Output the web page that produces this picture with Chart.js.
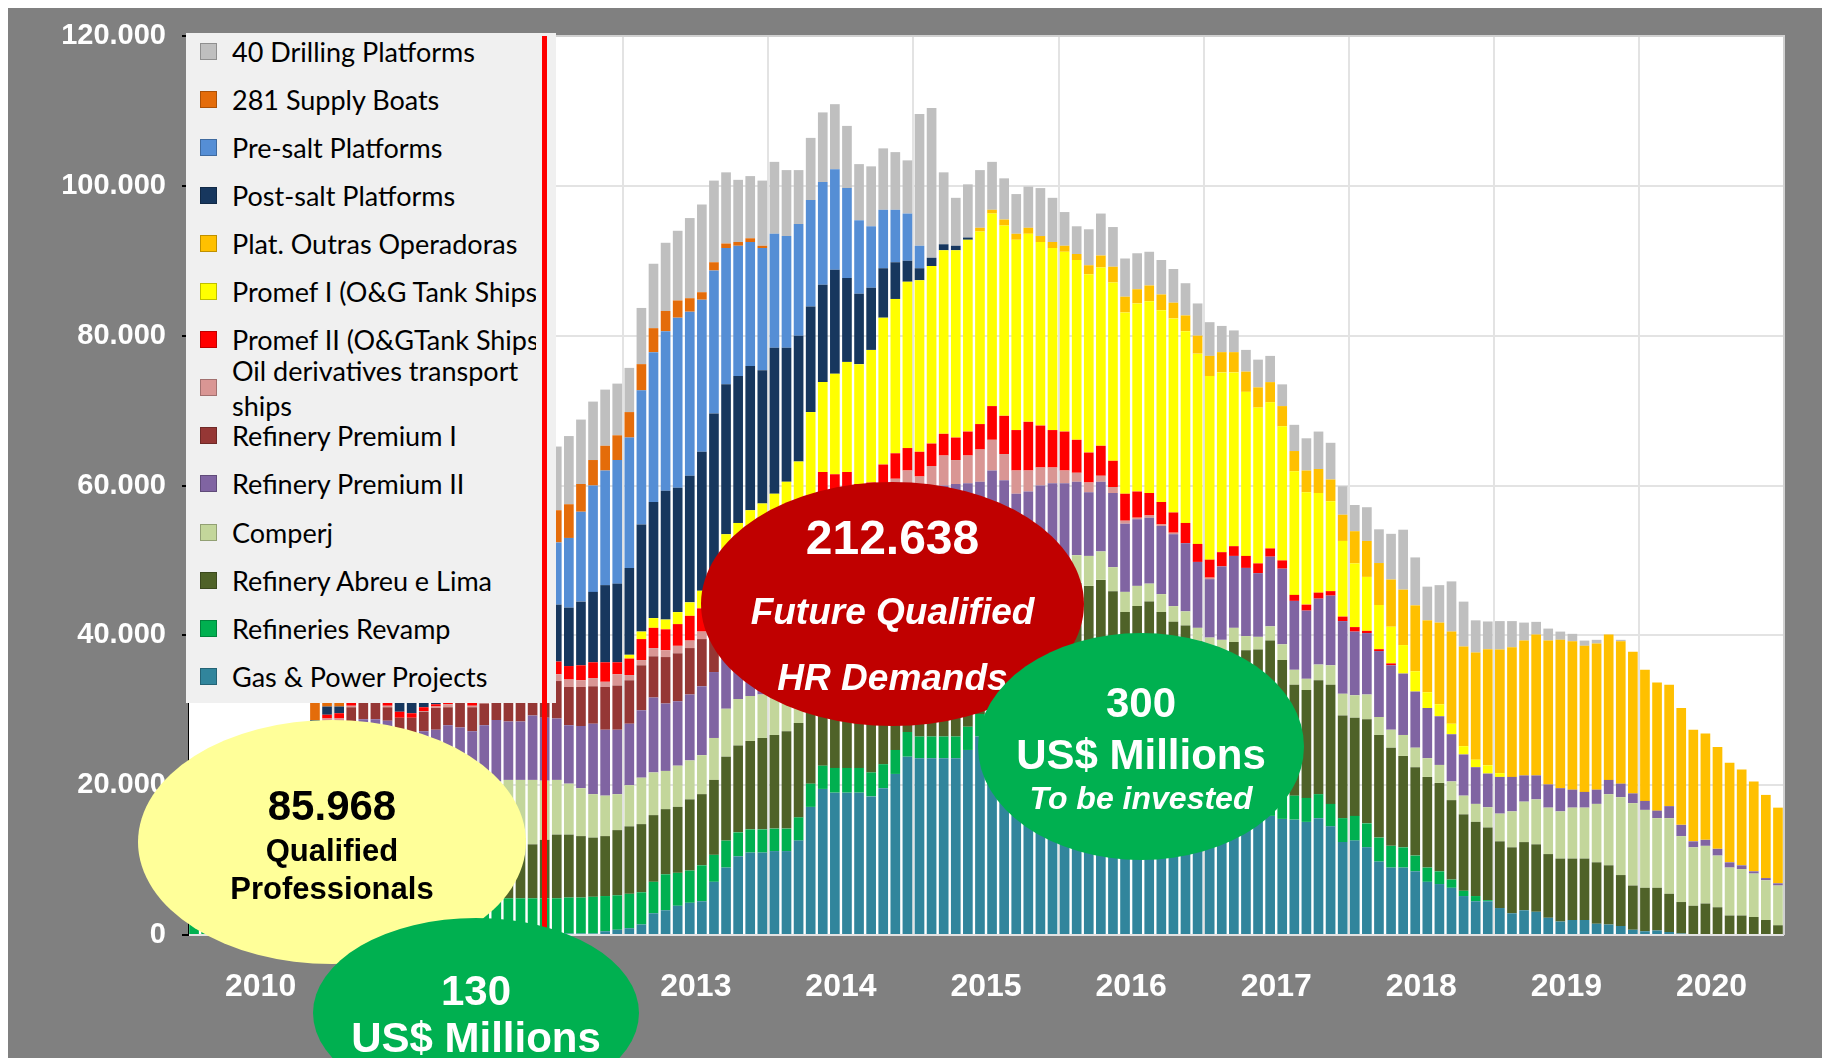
<!DOCTYPE html>
<html>
<head>
<meta charset="utf-8">
<script src="https://cdn.jsdelivr.net/npm/chart.js@4.4.1/dist/chart.umd.min.js"></script>
<style>
  body { margin: 0; background: #fff; }
  #wrap { position: relative; width: 1822px; height: 1058px; overflow: hidden; }
  #bg { position: absolute; left: 8px; top: 8px; right: 0; bottom: 0; background: #808080; }
  #chart { position: absolute; left: 0; top: 0; }
  #legend { position: absolute; left: 186px; top: 33px; width: 370px; height: 670px; background: #f0f0f0; overflow: hidden; }
  .row { position: absolute; left: 0; height: 48px; display: flex; align-items: center; }
  .box { position: absolute; left: 14px; width: 15px; height: 15px; border: 1px solid rgba(0,0,0,0.25); }
  .txt { position: absolute; left: 46px; width: 304px; font: 27px Lato, "Open Sans", sans-serif; color: #000; line-height: 35px; white-space: nowrap; overflow: hidden; }
  .txt.wrap { white-space: normal; }
  #marker { position: absolute; width: 5px; background: #ff0000; }
  .ell { position: absolute; border-radius: 50%; font-family: "Liberation Sans", Arial, sans-serif; font-weight: bold; }
  .ell div { position: absolute; left: 0; width: 100%; text-align: center; line-height: 1; white-space: nowrap; }
</style>
</head>
<body>
<div id="wrap">
  <div id="bg"></div>
  <canvas id="chart" width="1822" height="1058"></canvas>
  <div id="legend"></div>
  <div id="marker"></div>

  <div class="ell" style="left:138px;top:720px;width:388px;height:244px;background:#ffff99;color:#000">
    <div style="top:65px;font-size:42px">85.968</div>
    <div style="top:115px;font-size:31px">Qualified</div>
    <div style="top:153px;font-size:31px">Professionals</div>
  </div>
  <div class="ell" style="left:313px;top:918px;width:326px;height:190px;background:#00b050;color:#fff">
    <div style="top:52px;font-size:42px">130</div>
    <div style="top:99px;font-size:42px">US$ Millions</div>
  </div>
  <div class="ell" style="left:701px;top:482px;width:383px;height:244px;background:#c00000;color:#fff">
    <div style="top:32px;font-size:48px">212.638</div>
    <div style="top:111px;font-size:37px;font-style:italic">Future Qualified</div>
    <div style="top:177px;font-size:37px;font-style:italic">HR Demands</div>
  </div>
  <div class="ell" style="left:978px;top:633px;width:326px;height:227px;background:#00b050;color:#fff">
    <div style="top:49px;font-size:42px">300</div>
    <div style="top:101px;font-size:42px">US$ Millions</div>
    <div style="top:149px;font-size:32px;font-style:italic">To be invested</div>
  </div>
</div>

<script>
// values in thousands of professionals, one per month Jan 2010 .. Dec 2020
const years = [2010, 2011, 2012, 2013, 2014, 2015, 2016, 2017, 2018, 2019, 2020];
const monthNames = ['Jan', 'Feb', 'Mar', 'Apr', 'May', 'Jun', 'Jul', 'Aug', 'Sep', 'Oct', 'Nov', 'Dec'];
const markerMonth = 'Jun 2012';

const gasPower = [
  0,0,0,0,0,0,0,0,0,0,0,0,
  0,0,0,0,0,0,0,0,0,0,0,0,
  0,0,0,0,0,0,0.1,0.2,0.2,0.2,0.5,0.7,
  0.9,1.4,2.9,3.3,3.9,4.3,4.5,7.1,9.0,10.5,11.0,11.0,
  11.2,11.2,12.6,17.1,19.5,19.0,19.0,19.0,18.5,19.6,21.5,23.8,
  23.6,23.6,23.6,23.6,24.7,26.5,26.9,26.4,26.1,25.3,25.1,24.4,
  24.2,23.4,23.1,22.3,22.1,21.6,20.8,20.6,19.9,19.6,18.9,18.6,
  17.9,17.6,16.9,16.7,16.1,15.9,15.5,15.4,15.1,15.6,14.5,12.4,
  12.6,11.7,9.8,9.0,9.0,8.5,7.1,6.8,6.3,5.2,4.5,4.5,
  3.6,2.9,3.3,3.1,2.3,1.8,2.0,2.0,1.5,1.4,1.2,0.7,
  0.5,0.6,0.4,0.2,0,0,0,0,0,0,0,0
];
const refineriesRevamp = [
  4.6,4.6,4.7,4.7,4.8,4.8,4.8,4.9,4.9,4.9,5.0,5.0,
  5.0,5.0,5.0,5.0,5.0,4.9,4.9,4.9,4.9,4.9,4.9,4.9,
  4.9,4.9,4.9,4.9,4.9,4.9,4.8,4.8,4.8,4.9,4.7,4.6,
  4.6,4.3,4.2,4.8,4.4,4.3,4.8,3.6,3.6,3.2,3.1,3.1,
  3.0,3.0,3.1,3.1,3.1,3.3,3.3,3.3,3.2,3.2,3.2,3.3,
  2.9,2.9,2.9,2.9,3.1,3.0,3.0,3.0,3.0,3.0,3.1,3.1,
  3.1,3.1,3.1,3.1,3.1,3.1,3.1,3.1,3.1,3.1,3.1,3.1,
  3.1,3.1,3.2,3.2,3.2,3.2,3.2,3.2,3.2,3.2,3.0,3.2,
  3.3,3.2,3.2,2.9,2.7,2.1,1.9,1.7,1.1,0.7,0.7,0.15,
  0,0,0,0,0,0,0,0,0,0,0,0,
  0,0,0,0,0,0,0,0,0,0,0,0
];
const abreuLima = [
  2.0,2.2,2.4,2.6,2.8,3.0,3.2,3.4,3.6,3.8,4.4,5.0,
  5.1,5.4,5.6,5.8,5.9,6.0,6.1,6.2,6.3,6.4,6.5,6.6,
  6.7,7.0,7.4,8.0,7.2,7.8,8.5,8.4,8.2,7.9,8.0,8.7,
  9.0,9.1,8.9,8.7,8.8,9.5,9.5,10.0,11.2,11.6,11.8,12.2,
  12.5,13.0,12.6,13.0,14.0,14.5,15.0,15.0,15.8,15.8,16.2,15.6,
  16.8,17.2,17.5,17.8,17.0,16.5,16.5,16.9,16.9,17.7,17.9,18.7,
  18.8,20.5,20.4,22.0,20.7,18.4,20.0,20.8,20.1,19.1,19.3,17.5,
  16.9,16.8,19.0,18.1,18.8,20.2,18.0,14.8,14.4,15.2,15.9,13.7,
  13.1,13.9,13.7,13.1,12.2,11.8,12.1,11.8,10.6,10.2,9.9,9.7,
  8.9,8.8,9.1,9.0,8.5,8.4,8.2,8.2,8.2,7.9,6.8,5.9,
  5.8,5.7,5.1,4.2,3.9,4.2,3.7,2.6,2.6,2.4,2.0,1.3
];
const comperj = [
  3.5,3.7,3.9,4.1,4.3,4.5,4.7,4.9,5.1,5.3,6.2,6.8,
  7.0,7.2,7.4,7.5,7.5,7.3,7.3,7.4,7.5,7.6,7.7,7.8,
  7.8,8.6,8.4,7.8,8.6,7.9,7.3,6.8,6.4,5.8,5.4,4.8,
  5.5,6.2,5.7,5.1,5.5,5.2,5.2,5.6,6.4,6.2,6.0,5.8,
  5.8,5.8,5.7,5.6,5.5,5.5,5.4,5.4,5.3,5.2,5.2,5.1,
  5.0,5.0,5.0,4.9,4.8,4.6,4.5,4.4,4.3,4.2,4.1,4.0,
  3.9,3.7,4.0,3.8,3.2,2.7,2.7,2.4,2.4,2.1,1.9,1.8,
  1.8,1.9,1.9,1.9,1.7,1.9,2.1,2.0,1.5,2.1,2.6,2.9,
  3.0,3.3,2.4,2.4,2.8,2.6,2.5,2.4,2.5,2.5,2.4,2.7,
  3.7,4.8,5.4,6.0,6.2,6.3,6.8,6.8,7.8,9.5,10.4,11.0,
  10.4,9.3,10.1,8.8,7.8,7.7,6.9,6.4,6.2,5.8,5.3,5.3
];
const premiumII = [
  5.0,5.3,5.6,5.9,6.2,6.5,6.8,7.0,7.3,7.5,8.0,9.0,
  8.9,10.2,10.8,10.5,10.2,8.6,8.5,8.7,8.7,9.1,8.6,7.9,
  8.6,8.2,7.8,7.8,8.6,8.4,8.2,7.8,8.3,9.4,8.8,8.6,
  8.2,9.0,10.0,9.0,8.6,8.8,9.2,8.8,8.6,8.8,9.4,10.3,
  10.8,11.2,11.6,11.4,11.6,11.8,12.0,12.0,12.0,12.9,11.8,10.9,
  9.9,10.2,11.0,11.0,10.7,9.9,11.1,10.0,8.6,9.0,9.8,10.1,
  10.3,9.8,8.5,9.3,9.9,9.1,8.9,8.8,9.1,9.6,9.1,8.8,
  7.8,9.8,9.6,9.1,8.5,9.3,10.1,9.2,9.1,8.8,9.3,9.7,
  8.5,8.2,8.8,8.6,8.2,7.5,6.7,6.5,6.3,5.5,4.9,4.5,
  4.9,4.6,3.5,3.2,3.1,3.1,2.4,2.1,1.9,1.9,1.8,1.3,
  1.2,1.0,1.6,1.5,0.8,0.8,0.9,0.7,0.5,0.3,0.3,0.3
];
const premiumI = [
  2.0,2.0,2.1,2.1,2.2,2.2,2.3,2.3,2.4,2.4,2.5,2.6,
  2.6,2.6,2.7,2.6,1.8,2.2,2.2,2.6,2.9,2.4,3.3,3.2,
  2.9,3.3,3.8,4.2,4.5,4.8,5.0,5.1,5.2,5.0,5.7,5.9,
  5.8,6.0,5.5,6.2,6.4,6.2,6.3,6.0,5.6,5.2,4.8,4.2,
  3.6,3.1,2.6,2.0,1.6,1.2,0.8,0.5,0.3,0.1,0,0,
  0,0,0,0,0,0,0,0,0,0,0,0,
  0,0,0,0,0,0,0,0,0,0,0,0,
  0,0,0,0,0,0,0,0,0,0,0,0,
  0,0,0,0,0,0,0,0,0,0,0,0,
  0,0,0,0,0,0,0,0,0,0,0,0,
  0,0,0,0,0,0,0,0,0,0,0,0
];
const oilShips = [
  0.3,0.3,0.3,0.3,0.3,0.4,0.4,0.4,0.4,0.5,0.3,0.5,
  0.3,0.2,0.3,0.3,0.2,0,0,0.1,0.2,0.4,0.3,0.2,
  0.4,0.6,0.7,0.8,0.8,0.9,0.9,1.0,0.9,1.1,0.7,1.5,
  0.7,0.7,1.1,0.9,1.0,1.0,1.0,1.0,1.1,1.3,1.5,1.8,
  2.0,2.2,2.4,2.6,2.8,2.6,2.7,2.0,2.2,2.8,3.0,3.3,
  3.0,3.7,4.0,3.2,3.7,4.3,4.1,3.5,3.1,2.8,2.4,2.1,
  1.7,1.2,1.3,0.8,0.8,0.4,0.2,0.3,0.2,0.2,0,0,
  0.2,0,0,0,0,0,0,0,0,0,0,0,
  0,0,0,0,0,0,0,0,0,0,0,0,
  0,0,0,0,0,0,0,0,0,0,0,0,
  0,0,0,0,0,0,0,0,0,0,0,0
];
const promefII = [
  0.5,0.5,0.5,0.5,0.6,0.6,0.6,0.6,0.7,0.7,0.7,0.5,
  0.7,1.0,1.0,1.1,1.0,0.8,0.6,0.5,0.3,0.8,0.8,1.0,
  1.1,1.2,1.3,1.4,1.5,1.6,1.7,1.8,2.0,2.1,2.6,1.6,
  2.2,2.8,2.7,2.8,2.9,3.3,3.1,3.4,3.4,3.4,3.6,3.6,
  3.7,3.8,3.8,3.7,3.7,3.6,3.6,3.0,3.1,3.2,3.4,3.0,
  3.3,3.0,2.9,3.0,3.2,3.4,4.5,5.1,5.4,6.5,5.6,5.0,
  5.2,4.4,4.0,4.0,3.5,3.6,3.5,3.0,3.0,2.7,2.7,2.4,
  2.4,1.9,1.3,1.6,1.3,1.1,1.1,0.8,0.8,0.8,0.6,0.6,
  0.6,0.3,0.25,0.25,0,0,0,0,0,0,0,0,
  0,0,0,0,0,0,0,0,0,0,0,0,
  0,0,0,0,0,0,0,0,0,0,0,0
];
const promefI = [
  0,0,0,0,0,0,0,0,0,0,0,0,
  0,0,0,0,0,0,0,0,0,0,0,0,
  0,0,0,0,0,0,0,0,0,0,0,0,
  0.5,1.0,1.3,1.3,1.6,1.8,2.35,2.8,4.6,4.8,5.5,5.6,
  6.3,7.2,8.8,11.3,12.0,13.4,14.7,16.0,17.7,19.6,20.6,22.2,
  22.9,23.7,24.5,25.0,25.6,25.7,25.7,25.4,25.4,25.1,24.5,24.3,
  24.0,24.0,23.8,23.8,23.8,24.2,25.1,25.6,25.6,25.9,25.6,25.4,
  24.5,24.0,23.2,21.9,20.8,19.5,17.9,16.5,15.0,13.3,12.0,10.1,
  8.5,7.2,5.9,4.9,3.8,2.7,2.1,1.6,1.4,1.1,1.0,1.1,
  0.5,0,0,0,0,0,0,0,0,0,0,0,
  0,0,0,0,0,0,0,0,0,0,0,0
];
const outrasOperadoras = [
  0,0,0,0,0,0,0,0,0,0,0,0,
  0,0,0,0,0,0,0,0,0,0,0,0,
  0,0,0,0,0,0,0,0,0,0,0,0,
  0,0,0,0,0,0,0,0,0,0,0,0,
  0,0,0,0,0,0,0,0,0,0,0,0,
  0,0,0,0,0,0.5,0.5,0.8,0.8,0.8,0.8,0.8,
  0.8,0.8,1.2,1.6,2.1,2.1,1.9,2.1,2.1,2.1,2.1,2.4,
  2.7,2.7,2.7,2.7,2.7,2.7,2.7,2.7,2.9,3.2,2.9,3.5,
  4.3,4.8,5.6,6.3,7.4,8.8,9.6,10.9,12.3,13.3,14.3,15.5,
  16.5,17.3,18.0,18.8,19.2,19.8,19.8,19.5,19.5,19.4,19.0,18.9,
  17.5,17.1,16.2,15.6,14.9,14.2,13.6,13.3,12.8,12.0,11.1,10.1
];
const postSalt = [
  0,0,0,0,0,0,0,0,0,0,1.6,1.1,
  0.9,1.2,1.5,1.8,2.0,2.6,2.8,3.0,3.2,3.3,3.6,3.9,
  4.3,4.8,5.4,6.0,6.6,7.1,7.6,7.8,8.5,9.4,10.3,10.5,
  11.6,14.3,15.5,17.2,16.6,16.9,18.55,21.3,20.0,19.6,19.25,17.8,
  19.5,17.9,16.8,14.1,13.0,13.9,11.2,9.4,8.3,6.6,4.9,2.8,
  1.6,1.1,0.8,0.6,0.3,0,0,0,0,0,0,0,
  0,0,0,0,0,0,0,0,0,0,0,0,
  0,0,0,0,0,0,0,0,0,0,0,0,
  0,0,0,0,0,0,0,0,0,0,0,0,
  0,0,0,0,0,0,0,0,0,0,0,0,
  0,0,0,0,0,0,0,0,0,0,0,0
];
const preSalt = [
  0,0,0,0,0,0,0,0,0,0,0,0,
  0,0.5,0.8,1.2,1.6,2.0,2.5,3.0,3.5,4.0,4.5,5.0,
  5.5,6.0,6.6,7.2,7.8,8.1,8.3,9.3,12.0,14.2,15.3,16.5,
  17.4,17.9,20.0,21.3,22.7,21.9,20.3,19.1,18.2,17.4,16.55,16.3,
  15.2,14.9,14.9,14.2,13.7,13.4,12.0,9.8,8.2,7.8,7.0,6.3,
  3.0,0,0,0,0,0,0,0,0,0,0,0,
  0,0,0,0,0,0,0,0,0,0,0,0,
  0,0,0,0,0,0,0,0,0,0,0,0,
  0,0,0,0,0,0,0,0,0,0,0,0,
  0,0,0,0,0,0,0,0,0,0,0,0,
  0,0,0,0,0,0,0,0,0,0,0,0
];
const supplyBoats = [
  0,0,0,0,0,0,0,0,0,0.5,3.4,3.0,
  3.2,3.3,3.4,3.5,3.6,3.7,3.8,3.9,4.0,4.0,4.1,4.1,
  4.2,4.2,4.3,4.3,4.4,4.4,4.3,4.5,3.7,3.4,3.3,3.3,
  3.4,3.5,3.2,2.7,2.3,1.8,1.0,1.1,0.6,0.5,0.5,0.3,
  0,0,0,0,0,0,0,0,0,0,0,0,
  0,0,0,0,0,0,0,0,0,0,0,0,
  0,0,0,0,0,0,0,0,0,0,0,0,
  0,0,0,0,0,0,0,0,0,0,0,0,
  0,0,0,0,0,0,0,0,0,0,0,0,
  0,0,0,0,0,0,0,0,0,0,0,0,
  0,0,0,0,0,0,0,0,0,0,0,0
];
const drillingPlatforms = [
  1.8,1.8,1.9,1.9,2.0,2.0,2.1,2.1,2.2,1.8,3.2,3.5,
  3.6,3.8,4.0,4.2,4.4,4.6,4.8,5.0,5.2,5.4,5.6,5.8,
  6.2,6.6,7.0,7.6,8.0,8.3,8.5,9.1,8.6,7.8,7.5,6.9,
  5.9,7.5,8.6,9.1,9.3,10.7,11.7,10.9,9.5,8.3,8.3,8.7,
  9.6,8.8,7.2,8.3,9.3,8.7,8.3,7.5,8.0,8.2,7.7,7.1,
  17.6,20.0,9.6,6.4,7.1,7.7,6.4,5.5,5.3,5.5,6.4,5.9,
  4.5,3.7,4.8,5.6,5.3,5.1,4.8,4.5,4.6,4.5,4.3,4.3,
  4.5,3.5,2.9,2.9,3.7,3.5,2.9,3.5,4.3,5.0,4.9,3.8,
  3.5,4.5,4.5,6.1,8.0,6.4,4.5,5.0,6.7,6.0,4.3,3.7,
  3.8,3.5,2.4,1.7,1.6,1.1,1.0,0.7,0.5,0,0.2,0,
  0,0,0,0,0,0,0,0,0,0,0,0
];

const labels = years.flatMap(y => monthNames.map(m => m + ' ' + y));

// stacked bottom -> top
const series = [
  { label: 'Gas & Power Projects', data: gasPower, color: '#31859c' },
  { label: 'Refineries Revamp', data: refineriesRevamp, color: '#00b050' },
  { label: 'Refinery Abreu e Lima', data: abreuLima, color: '#4f6228' },
  { label: 'Comperj', data: comperj, color: '#c3d69b' },
  { label: 'Refinery Premium II', data: premiumII, color: '#8064a2' },
  { label: 'Refinery Premium I', data: premiumI, color: '#953735' },
  { label: 'Oil derivatives transport ships', data: oilShips, color: '#d99694' },
  { label: 'Promef II (O&GTank Ships)', data: promefII, color: '#ff0000' },
  { label: 'Promef I (O&G Tank Ships)', data: promefI, color: '#ffff00' },
  { label: 'Plat. Outras Operadoras', data: outrasOperadoras, color: '#ffc000' },
  { label: 'Post-salt Platforms', data: postSalt, color: '#17375e' },
  { label: 'Pre-salt Platforms', data: preSalt, color: '#558ed5' },
  { label: '281 Supply Boats', data: supplyBoats, color: '#e46c0a' },
  { label: '40 Drilling Platforms', data: drillingPlatforms, color: '#bfbfbf' }
];

const plotBg = {
  id: 'plotBg',
  beforeDraw(chart) {
    const a = chart.chartArea, c = chart.ctx;
    c.save();
    c.fillStyle = '#ffffff';
    c.fillRect(a.left, a.top, a.right - a.left, a.bottom - a.top);
    c.restore();
  },
  afterDraw(chart) {
    const a = chart.chartArea, c = chart.ctx;
    c.save();
    c.strokeStyle = '#d0d0d0';
    c.lineWidth = 2;
    c.beginPath();
    c.moveTo(a.left, a.top); c.lineTo(a.right, a.top); c.lineTo(a.right, a.bottom);
    c.stroke();
    c.restore();
  }
};

const ctx = document.getElementById('chart');
const chart = new Chart(ctx, {
  type: 'bar',
  data: {
    labels: labels,
    datasets: series.map(s => ({
      label: s.label,
      data: s.data,
      backgroundColor: s.color,
      borderWidth: 0,
      categoryPercentage: 0.8,
      barPercentage: 1.0
    }))
  },
  options: {
    responsive: false,
    animation: false,
    devicePixelRatio: 1,
    layout: { padding: { top: 36, right: 38, left: 0, bottom: 0 } },
    plugins: { legend: { display: false }, tooltip: { enabled: false } },
    scales: {
      x: {
        stacked: true,
        afterFit: axis => { axis.height = 123; },
        border: { display: false },
        grid: {
          offset: true,
          drawTicks: false,
          lineWidth: 2,
          color: c => (c.index > 0 && c.index < labels.length && c.index % 12 === 0) ? '#e3e3e3' : 'rgba(0,0,0,0)'
        },
        ticks: {
          autoSkip: false,
          maxRotation: 0,
          minRotation: 0,
          padding: 33,
          labelOffset: -6,
          color: '#ffffff',
          font: { family: '"Liberation Sans", Arial, sans-serif', size: 32, weight: 'bold' },
          callback: (v, i) => (i % 12 === 6 ? String(years[Math.floor(i / 12)]) : '')
        }
      },
      y: {
        stacked: true,
        min: 0,
        max: 120,
        afterFit: axis => { axis.width = 188; },
        border: { color: '#000000', width: 1 },
        grid: { color: '#e3e3e3', lineWidth: 2, tickLength: 6, tickColor: '#000000' },
        ticks: {
          stepSize: 20,
          padding: 16,
          color: '#ffffff',
          font: { family: '"Liberation Sans", Arial, sans-serif', size: 29, weight: 'bold' },
          callback: v => (v === 0 ? '0' : v + '.000')
        }
      }
    }
  },
  plugins: [plotBg]
});

// legend built from the chart datasets, top of stack first
const legend = document.getElementById('legend');
chart.data.datasets.slice().reverse().forEach((ds, i) => {
  const row = document.createElement('div');
  row.className = 'row';
  row.style.top = (18 + i * 48.1 - 24) + 'px';
  row.style.width = '370px';
  const box = document.createElement('div');
  box.className = 'box';
  box.style.background = ds.backgroundColor;
  const txt = document.createElement('div');
  txt.className = 'txt' + (ds.label.startsWith('Oil') ? ' wrap' : '');
  txt.textContent = ds.label;
  row.appendChild(box);
  row.appendChild(txt);
  legend.appendChild(row);
});

// red "today" marker line
const xs = chart.scales.x;
const mx = xs.getPixelForValue(labels.indexOf(markerMonth));
const marker = document.getElementById('marker');
marker.style.left = (mx - 2.5) + 'px';
marker.style.top = chart.chartArea.top + 'px';
marker.style.height = (chart.chartArea.bottom - chart.chartArea.top) + 'px';
</script>
</body>
</html>
